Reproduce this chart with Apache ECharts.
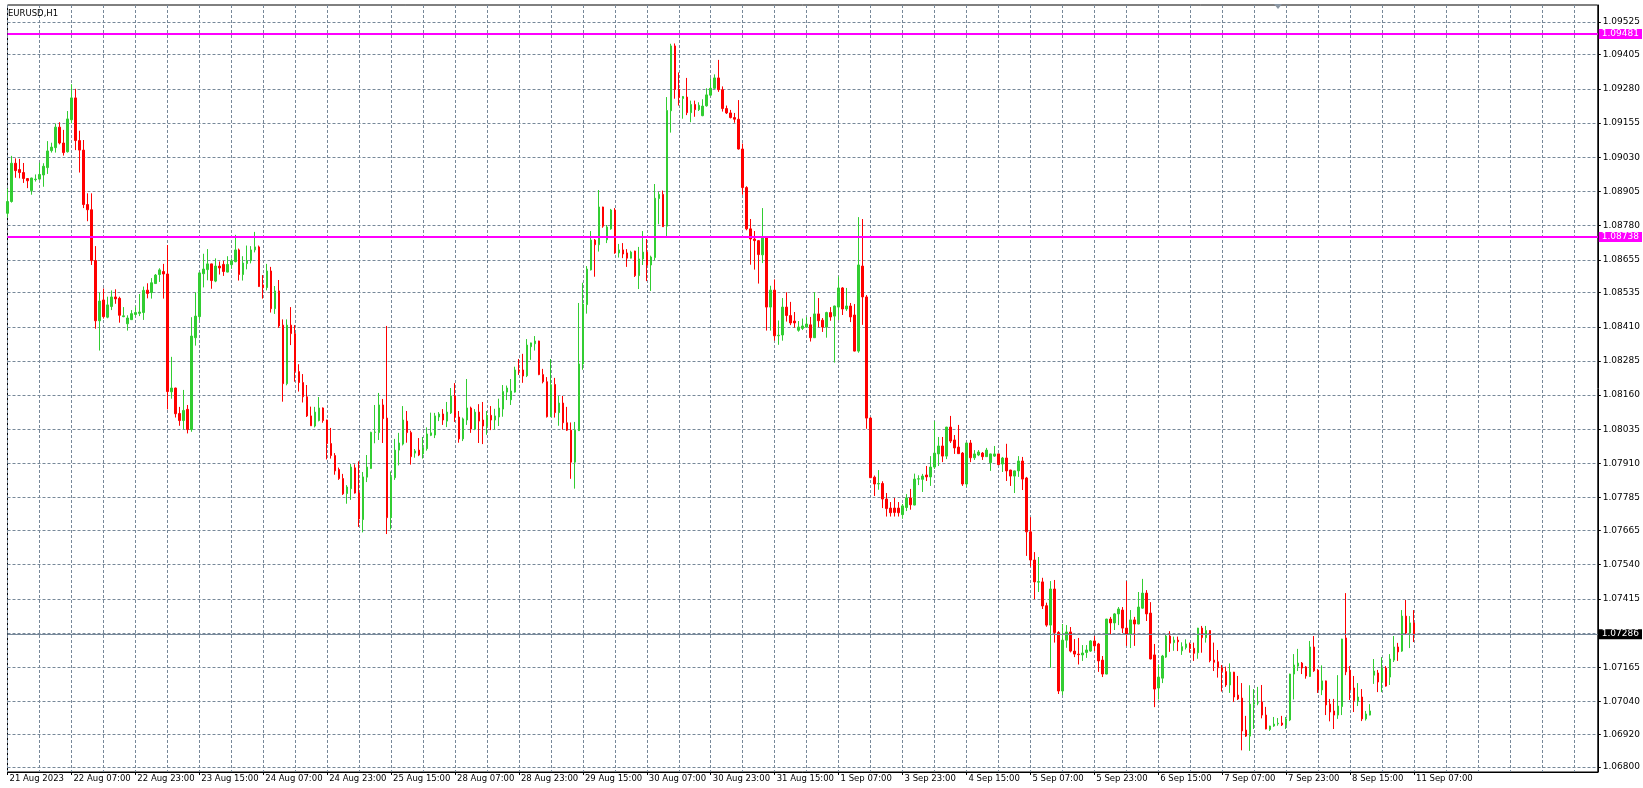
<!DOCTYPE html>
<html><head><meta charset="utf-8">
<script src="https://cdn.jsdelivr.net/npm/echarts@6/dist/echarts.min.js"></script>
<style>html,body{margin:0;padding:0;background:#fff}#c{width:1643px;height:788px}</style>
</head><body><div id="c"></div>
<script>
const chartTitle = 'EURUSD,H1';
const timeLabels = ['21 Aug 2023','22 Aug 07:00','22 Aug 23:00','23 Aug 15:00','24 Aug 07:00','24 Aug 23:00','25 Aug 15:00','28 Aug 07:00','28 Aug 23:00','29 Aug 15:00','30 Aug 07:00','30 Aug 23:00','31 Aug 15:00','1 Sep 07:00','3 Sep 23:00','4 Sep 15:00','5 Sep 07:00','5 Sep 23:00','6 Sep 15:00','7 Sep 07:00','7 Sep 23:00','8 Sep 15:00','11 Sep 07:00'];
const priceTicks = [1.09525,1.09405,1.09280,1.09155,1.09030,1.08905,1.08780,1.08655,1.08535,1.08410,1.08285,1.08160,1.08035,1.07910,1.07785,1.07665,1.07540,1.07415,1.07290,1.07165,1.07040,1.06920,1.06800];
const hiddenTick = 1.07290;
const levelLines = [1.09481, 1.08738];
const lastPrice = 1.07286;
const slotCount = 399;
const labelEvery = 16;
const gridEvery = 8;
const priceMin = 1.067818;
const priceMax = 1.095867;

const open = [1.08825,1.08868,1.09008,1.08985,1.08974,1.08952,1.08908,1.08948,1.08950,1.08965,
1.08992,1.09054,1.09065,1.09140,1.09082,1.09050,1.09167,1.09247,1.09091,1.09056,
1.08857,1.08838,1.08652,1.08432,1.08508,1.08445,1.08484,1.08519,1.08514,1.08447,
1.08421,1.08436,1.08455,1.08459,1.08462,1.08544,1.08535,1.08568,1.08601,1.08612,
1.08603,1.08172,1.08186,1.08093,1.08067,1.08108,1.08034,1.08370,1.08447,1.08604,
1.08619,1.08640,1.08577,1.08632,1.08638,1.08610,1.08637,1.08648,1.08691,1.08601,
1.08641,1.08652,1.08691,1.08702,1.08563,1.08553,1.08614,1.08476,1.08541,1.08416,
1.08202,1.08416,1.08385,1.08246,1.08206,1.08154,1.08084,1.08047,1.08067,1.08113,
1.08069,1.07983,1.07939,1.07888,1.07855,1.07800,1.07818,1.07894,1.07802,1.07705,
1.07860,1.07892,1.08024,1.08023,1.08124,1.08076,1.07712,1.07858,1.07959,1.07981,
1.08065,1.08023,1.07948,1.07959,1.07945,1.07964,1.08013,1.08014,1.08080,1.08091,
1.08065,1.08095,1.08157,1.08080,1.08000,1.08069,1.08113,1.08036,1.08098,1.08069,
1.08047,1.08086,1.08069,1.08080,1.08109,1.08171,1.08143,1.08171,1.08252,1.08252,
1.08231,1.08337,1.08348,1.08358,1.08235,1.08209,1.08081,1.08199,1.08096,1.08131,
1.08059,1.08032,1.07915,1.08030,1.08274,1.08491,1.08618,1.08727,1.08710,1.08848,
1.08728,1.08768,1.08837,1.08680,1.08691,1.08680,1.08661,1.08687,1.08597,1.08658,
1.08683,1.08636,1.08663,1.08879,1.08894,1.08778,1.09200,1.09437,1.09278,1.09245,
1.09250,1.09193,1.09223,1.09204,1.09182,1.09218,1.09257,1.09282,1.09320,1.09277,
1.09208,1.09192,1.09175,1.09169,1.09060,1.08919,1.08768,1.08731,1.08725,1.08673,
1.08740,1.08482,1.08544,1.08377,1.08380,1.08482,1.08451,1.08431,1.08397,1.08404,
1.08409,1.08417,1.08370,1.08457,1.08434,1.08409,1.08462,1.08449,1.08482,1.08552,
1.08475,1.08486,1.08453,1.08321,1.08632,1.08519,1.08076,1.07860,1.07835,1.07837,
1.07780,1.07747,1.07747,1.07747,1.07723,1.07749,1.07784,1.07758,1.07853,1.07852,
1.07868,1.07861,1.07897,1.07945,1.07974,1.07937,1.08043,1.07996,1.07970,1.07948,
1.07835,1.07985,1.07931,1.07941,1.07948,1.07935,1.07913,1.07937,1.07945,1.07908,
1.07930,1.07886,1.07864,1.07883,1.07919,1.07857,1.07660,1.07557,1.07476,1.07477,
1.07390,1.07319,1.07451,1.07292,1.07078,1.07264,1.07294,1.07224,1.07213,1.07210,
1.07219,1.07224,1.07261,1.07250,1.07191,1.07140,1.07341,1.07327,1.07360,1.07374,
1.07308,1.07286,1.07338,1.07323,1.07381,1.07436,1.07363,1.07210,1.07089,1.07125,
1.07202,1.07279,1.07255,1.07264,1.07225,1.07237,1.07250,1.07234,1.07218,1.07308,
1.07273,1.07299,1.07191,1.07185,1.07163,1.07149,1.07100,1.07147,1.07063,1.07052,
1.06935,1.06913,1.07030,1.07034,1.07038,1.06990,1.06937,1.06950,1.06958,1.06961,
1.06954,1.06972,1.07140,1.07169,1.07180,1.07166,1.07131,1.07239,1.07154,1.07082,
1.07115,1.07030,1.07005,1.06990,1.07021,1.07272,1.07154,1.07089,1.07042,1.07056,
1.06976,1.06990,1.07136,1.07144,1.07111,1.07162,1.07129,1.07191,1.07239,1.07224,
1.07352,1.07290,1.07327];

const close = [1.08868,1.09008,1.08981,1.08974,1.08952,1.08944,1.08954,1.08950,1.08967,1.08997,
1.09053,1.09067,1.09140,1.09082,1.09047,1.09170,1.09247,1.09091,1.09056,1.08857,
1.08838,1.08652,1.08432,1.08504,1.08447,1.08490,1.08519,1.08512,1.08452,1.08450,
1.08442,1.08458,1.08462,1.08464,1.08543,1.08532,1.08571,1.08599,1.08618,1.08603,
1.08173,1.08186,1.08092,1.08067,1.08104,1.08034,1.08376,1.08449,1.08607,1.08621,
1.08640,1.08579,1.08632,1.08625,1.08612,1.08638,1.08651,1.08691,1.08601,1.08643,
1.08652,1.08691,1.08702,1.08557,1.08553,1.08614,1.08476,1.08541,1.08413,1.08202,
1.08416,1.08385,1.08246,1.08206,1.08154,1.08084,1.08048,1.08098,1.08113,1.08067,
1.07983,1.07939,1.07883,1.07855,1.07799,1.07824,1.07897,1.07802,1.07707,1.07861,
1.07897,1.08024,1.08025,1.08124,1.08074,1.07712,1.07861,1.07959,1.07985,1.08069,
1.08023,1.07935,1.07956,1.07941,1.07967,1.08018,1.08022,1.08084,1.08091,1.08069,
1.08098,1.08157,1.08080,1.08000,1.08073,1.08113,1.08036,1.08098,1.08065,1.08047,
1.08086,1.08069,1.08084,1.08113,1.08173,1.08186,1.08175,1.08252,1.08249,1.08230,
1.08343,1.08351,1.08358,1.08235,1.08209,1.08081,1.08198,1.08096,1.08131,1.08059,
1.08032,1.07915,1.08032,1.08274,1.08493,1.08621,1.08727,1.08710,1.08848,1.08778,
1.08775,1.08837,1.08680,1.08691,1.08676,1.08661,1.08683,1.08597,1.08658,1.08683,
1.08636,1.08665,1.08880,1.08894,1.08776,1.09201,1.09437,1.09278,1.09249,1.09252,
1.09193,1.09223,1.09204,1.09220,1.09217,1.09258,1.09282,1.09320,1.09277,1.09208,
1.09192,1.09175,1.09169,1.09060,1.08919,1.08768,1.08731,1.08725,1.08674,1.08740,
1.08482,1.08544,1.08377,1.08379,1.08482,1.08451,1.08424,1.08424,1.08409,1.08413,
1.08420,1.08370,1.08457,1.08432,1.08409,1.08462,1.08446,1.08486,1.08552,1.08475,
1.08486,1.08446,1.08321,1.08636,1.08519,1.08076,1.07858,1.07835,1.07837,1.07780,
1.07745,1.07730,1.07731,1.07730,1.07755,1.07784,1.07759,1.07853,1.07854,1.07864,
1.07861,1.07897,1.07948,1.07974,1.07937,1.08043,1.07992,1.07967,1.07946,1.07835,
1.07985,1.07931,1.07945,1.07952,1.07935,1.07959,1.07945,1.07945,1.07906,1.07930,
1.07883,1.07864,1.07883,1.07919,1.07853,1.07660,1.07557,1.07477,1.07478,1.07389,
1.07319,1.07451,1.07292,1.07078,1.07264,1.07294,1.07224,1.07213,1.07211,1.07217,
1.07228,1.07261,1.07243,1.07188,1.07140,1.07341,1.07327,1.07360,1.07378,1.07308,
1.07286,1.07338,1.07323,1.07385,1.07436,1.07360,1.07195,1.07085,1.07129,1.07206,
1.07279,1.07253,1.07264,1.07258,1.07240,1.07250,1.07233,1.07216,1.07308,1.07273,
1.07299,1.07189,1.07183,1.07163,1.07149,1.07100,1.07147,1.07056,1.07049,1.06932,
1.06913,1.07030,1.07034,1.07035,1.06990,1.06939,1.06950,1.06957,1.06960,1.06954,
1.06976,1.07140,1.07173,1.07180,1.07162,1.07133,1.07239,1.07152,1.07082,1.07115,
1.07027,1.07001,1.06990,1.07023,1.07268,1.07148,1.07082,1.07043,1.07056,1.06976,
1.06994,1.07005,1.07151,1.07111,1.07162,1.07096,1.07195,1.07239,1.07221,1.07352,
1.07290,1.07327,1.07286];

const low = [1.08810,1.08864,1.08955,1.08953,1.08936,1.08917,1.08893,1.08941,1.08947,1.08922,
1.08969,1.09047,1.09047,1.09077,1.09036,1.09047,1.09154,1.09056,1.08974,1.08844,
1.08796,1.08636,1.08403,1.08323,1.08440,1.08441,1.08471,1.08494,1.08425,1.08445,
1.08396,1.08435,1.08447,1.08449,1.08435,1.08514,1.08513,1.08567,1.08574,1.08513,
1.08108,1.08147,1.08078,1.08048,1.08035,1.08020,1.08026,1.08341,1.08435,1.08554,
1.08580,1.08549,1.08573,1.08601,1.08596,1.08609,1.08622,1.08646,1.08579,1.08579,
1.08620,1.08642,1.08682,1.08556,1.08513,1.08543,1.08462,1.08457,1.08406,1.08136,
1.08196,1.08343,1.08209,1.08173,1.08133,1.08080,1.08047,1.08042,1.08064,1.08059,
1.07925,1.07928,1.07869,1.07850,1.07795,1.07763,1.07777,1.07800,1.07678,1.07658,
1.07842,1.07891,1.07984,1.07996,1.07985,1.07652,1.07669,1.07850,1.07903,1.07976,
1.07986,1.07906,1.07931,1.07937,1.07928,1.07957,1.08010,1.08003,1.08065,1.08051,
1.08043,1.08091,1.08062,1.07986,1.07992,1.08051,1.08022,1.08032,1.07985,1.07981,
1.08015,1.08032,1.08034,1.08047,1.08081,1.08142,1.08124,1.08169,1.08234,1.08205,
1.08226,1.08289,1.08323,1.08233,1.08203,1.08078,1.08080,1.08078,1.08048,1.08034,
1.08029,1.07854,1.07818,1.08029,1.08253,1.08458,1.08616,1.08593,1.08685,1.08772,
1.08716,1.08765,1.08677,1.08663,1.08661,1.08629,1.08660,1.08592,1.08548,1.08636,
1.08577,1.08541,1.08653,1.08785,1.08775,1.08736,1.09120,1.09244,1.09219,1.09171,
1.09184,1.09158,1.09178,1.09199,1.09180,1.09215,1.09253,1.09280,1.09269,1.09197,
1.09188,1.09172,1.09156,1.09058,1.08893,1.08763,1.08637,1.08619,1.08568,1.08643,
1.08396,1.08396,1.08359,1.08344,1.08359,1.08429,1.08416,1.08407,1.08392,1.08398,
1.08407,1.08356,1.08369,1.08409,1.08391,1.08370,1.08432,1.08279,1.08435,1.08453,
1.08468,1.08427,1.08320,1.08315,1.08417,1.08037,1.07857,1.07791,1.07814,1.07747,
1.07716,1.07716,1.07716,1.07716,1.07708,1.07736,1.07741,1.07757,1.07831,1.07806,
1.07846,1.07828,1.07890,1.07901,1.07915,1.07926,1.07985,1.07945,1.07945,1.07828,
1.07824,1.07915,1.07923,1.07937,1.07923,1.07934,1.07883,1.07934,1.07904,1.07879,
1.07846,1.07828,1.07802,1.07861,1.07813,1.07572,1.07533,1.07414,1.07440,1.07378,
1.07313,1.07163,1.07255,1.07067,1.07063,1.07236,1.07219,1.07202,1.07175,1.07188,
1.07199,1.07221,1.07224,1.07148,1.07129,1.07139,1.07286,1.07301,1.07319,1.07290,
1.07243,1.07235,1.07243,1.07322,1.07379,1.07334,1.07194,1.07019,1.07047,1.07107,
1.07199,1.07221,1.07225,1.07224,1.07210,1.07230,1.07218,1.07188,1.07196,1.07218,
1.07255,1.07183,1.07151,1.07127,1.07076,1.07093,1.07071,1.07038,1.07045,1.06861,
1.06910,1.06859,1.06939,1.07026,1.06978,1.06938,1.06932,1.06947,1.06951,1.06950,
1.06939,1.06968,1.07047,1.07151,1.07140,1.07123,1.07129,1.07148,1.07071,1.07063,
1.06990,1.06967,1.06939,1.06976,1.06990,1.07136,1.07045,1.07001,1.07023,1.06968,
1.06970,1.06989,1.07104,1.07074,1.07074,1.07094,1.07100,1.07184,1.07188,1.07221,
1.07283,1.07235,1.07257];

const high = [1.08916,1.09035,1.09026,1.09024,1.09009,1.08954,1.08955,1.08967,1.09010,1.09008,
1.09089,1.09083,1.09153,1.09158,1.09130,1.09199,1.09297,1.09280,1.09127,1.09093,
1.08898,1.08898,1.08705,1.08535,1.08550,1.08520,1.08543,1.08547,1.08520,1.08482,
1.08452,1.08471,1.08484,1.08530,1.08557,1.08569,1.08588,1.08603,1.08624,1.08640,
1.08709,1.08300,1.08187,1.08117,1.08179,1.08124,1.08445,1.08536,1.08609,1.08677,
1.08694,1.08641,1.08660,1.08649,1.08651,1.08668,1.08660,1.08746,1.08696,1.08668,
1.08707,1.08705,1.08757,1.08707,1.08599,1.08640,1.08629,1.08559,1.08581,1.08437,
1.08437,1.08482,1.08416,1.08273,1.08237,1.08197,1.08118,1.08117,1.08153,1.08115,
1.08070,1.08040,1.07948,1.07895,1.07872,1.07831,1.07908,1.07907,1.07918,1.07879,
1.07941,1.08026,1.08124,1.08168,1.08146,1.08413,1.07881,1.08000,1.08022,1.08120,
1.08102,1.08030,1.07963,1.08003,1.08007,1.08042,1.08096,1.08095,1.08098,1.08109,
1.08135,1.08186,1.08204,1.08102,1.08078,1.08219,1.08118,1.08109,1.08127,1.08135,
1.08102,1.08120,1.08110,1.08147,1.08197,1.08195,1.08219,1.08264,1.08292,1.08311,
1.08365,1.08352,1.08376,1.08359,1.08256,1.08226,1.08292,1.08223,1.08157,1.08157,
1.08117,1.08060,1.08062,1.08497,1.08571,1.08632,1.08760,1.08731,1.08910,1.08849,
1.08782,1.08841,1.08844,1.08713,1.08716,1.08694,1.08688,1.08688,1.08702,1.08760,
1.08731,1.08670,1.08932,1.08903,1.08908,1.09250,1.09445,1.09446,1.09340,1.09254,
1.09320,1.09237,1.09237,1.09231,1.09242,1.09282,1.09319,1.09333,1.09386,1.09289,
1.09219,1.09203,1.09192,1.09239,1.09080,1.08924,1.08804,1.08760,1.08727,1.08844,
1.08741,1.08560,1.08583,1.08433,1.08515,1.08536,1.08501,1.08464,1.08431,1.08440,
1.08446,1.08446,1.08537,1.08515,1.08442,1.08465,1.08482,1.08487,1.08594,1.08555,
1.08552,1.08497,1.08493,1.08811,1.08804,1.08526,1.08080,1.07866,1.07886,1.07845,
1.07802,1.07769,1.07784,1.07769,1.07762,1.07798,1.07817,1.07873,1.07867,1.07872,
1.07901,1.07937,1.08065,1.08007,1.08007,1.08044,1.08084,1.08014,1.08051,1.07952,
1.07986,1.07996,1.07959,1.07959,1.07952,1.07967,1.07946,1.07974,1.07946,1.07934,
1.07982,1.07887,1.07884,1.07937,1.07934,1.07861,1.07714,1.07586,1.07568,1.07492,
1.07401,1.07480,1.07484,1.07297,1.07323,1.07319,1.07312,1.07268,1.07272,1.07246,
1.07246,1.07264,1.07279,1.07254,1.07206,1.07342,1.07349,1.07363,1.07385,1.07385,
1.07480,1.07374,1.07349,1.07440,1.07488,1.07447,1.07403,1.07250,1.07175,1.07210,
1.07283,1.07297,1.07277,1.07277,1.07256,1.07267,1.07255,1.07255,1.07309,1.07316,
1.07316,1.07300,1.07255,1.07228,1.07173,1.07167,1.07179,1.07148,1.07133,1.07107,
1.06987,1.07099,1.07085,1.07093,1.07100,1.07020,1.06951,1.06983,1.06979,1.06987,
1.06983,1.07141,1.07213,1.07232,1.07184,1.07169,1.07261,1.07279,1.07158,1.07172,
1.07116,1.07049,1.07049,1.07136,1.07269,1.07436,1.07169,1.07133,1.07107,1.07085,
1.07005,1.07030,1.07195,1.07155,1.07202,1.07169,1.07213,1.07279,1.07254,1.07374,
1.07411,1.07352,1.07374];

const UP = '#32CD32', DOWN = '#FF0000', GRIDC = '#778899', MAG = '#FF00FF';
const FONT = 'DejaVu Sans';

const categories = Array.from({length: slotCount}, (_, i) => String(i));
const candles = open.map((o, i) => [o, close[i], low[i], high[i]]);

const chart = echarts.init(document.getElementById('c'), null, {renderer: 'canvas'});
chart.setOption({
  animation: false,
  backgroundColor: '#ffffff',
  title: {
    text: chartTitle, left: 8, top: 9, padding: 0,
    textStyle: {fontSize: 8.5, fontWeight: 'normal', fontFamily: FONT, color: '#000'}
  },
  grid: {
    left: 7.5, top: 5, width: 1592, height: 767,
    show: true, borderColor: '#000', borderWidth: 1, backgroundColor: '#fff'
  },
  xAxis: {
    type: 'category', data: categories, boundaryGap: false,
    axisLine: {show: true, lineStyle: {color: '#000', width: 1}},
    axisTick: {show: true, interval: (i) => i % labelEvery === 0 && i / labelEvery < timeLabels.length, length: 3, lineStyle: {color: '#000'}},
    axisLabel: {
      show: true, interval: (i) => i % labelEvery === 0 && i / labelEvery < timeLabels.length,
      formatter: (v, i) => timeLabels[Math.round(Number(v) / labelEvery)] || '',
      align: 'left', padding: [0, 0, 0, 2], margin: 2,
      fontSize: 8.5, fontFamily: FONT, color: '#000', lineHeight: 10
    },
    splitLine: {show: true, interval: (i) => i % gridEvery === 0, lineStyle: {color: GRIDC, width: 1, type: [3, 2]}}
  },
  yAxis: {
    type: 'value', position: 'right', min: priceMin, max: priceMax,
    axisLine: {show: true, lineStyle: {color: '#000', width: 1}},
    axisTick: {show: true, customValues: priceTicks, length: 3, lineStyle: {color: '#000'}},
    axisLabel: {
      customValues: priceTicks.filter(v => v !== hiddenTick),
      formatter: (v) => Number(v).toFixed(5),
      margin: 5, fontSize: 9, fontFamily: FONT, color: '#000'
    },
    splitLine: {show: true, lineStyle: {color: GRIDC, width: 1, type: [3, 2]}}
  },
  series: [{
    type: 'candlestick',
    data: candles,
    barWidth: 2,
    clip: false,
    itemStyle: {color: UP, color0: DOWN, borderColor: UP, borderColor0: DOWN, borderWidth: 1},
    markLine: {
      symbol: ['none', 'none'], silent: true, animation: false, precision: 5,
      label: {
        show: true, position: 'end', distance: 1,
        formatter: (p) => Number(p.value).toFixed(5),
        color: '#fff', fontSize: 9, fontFamily: FONT, padding: [1, 3, 0, 3]
      },
      data: [
        {yAxis: levelLines[0], lineStyle: {color: MAG, width: 2, type: 'solid'}, label: {backgroundColor: MAG}},
        {yAxis: levelLines[1], lineStyle: {color: MAG, width: 2, type: 'solid'}, label: {backgroundColor: MAG}},
        {yAxis: lastPrice, lineStyle: {color: GRIDC, width: 1, type: 'solid'}, label: {backgroundColor: '#000'}}
      ]
    }
  }],
  graphic: [
    {type: 'polygon', shape: {points: [[1274, 4], [1282, 4], [1278, 9]]}, style: {fill: '#8a96a3'}, z: 100}
  ]
});
</script>
</body></html>
